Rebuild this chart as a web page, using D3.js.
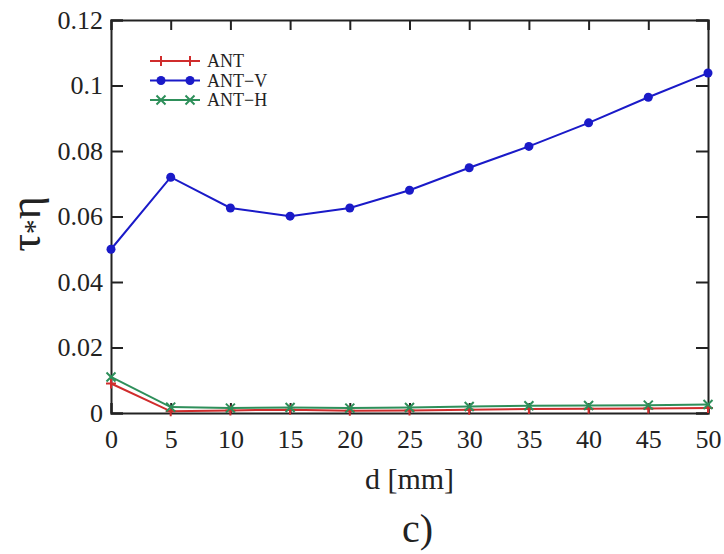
<!DOCTYPE html>
<html>
<head>
<meta charset="utf-8">
<script src="https://cdn.jsdelivr.net/npm/d3@7"></script>
<style>
  body { margin: 0; background: #fff; }
  text { font-family: "Liberation Serif", "DejaVu Serif", serif; fill: #222; }
</style>
</head>
<body>
<div class="chart"></div>
<script>
var svgWidth = 724;
var svgHeight = 554;

var margin = { top: 20, right: 16, bottom: 141, left: 111 };
var width = svgWidth - margin.left - margin.right;
var height = svgHeight - margin.top - margin.bottom;

// data
var dValues = [0, 5, 10, 15, 20, 25, 30, 35, 40, 45, 50];
var antValues = [0.0090, 0.0005, 0.0008, 0.0010, 0.0007, 0.0008, 0.0010, 0.0012, 0.0013, 0.0014, 0.0015];
var antVValues = [0.0500, 0.0720, 0.0626, 0.0601, 0.0626, 0.0680, 0.0749, 0.0814, 0.0886, 0.0964, 0.1038];
var antHValues = [0.0110, 0.0018, 0.0015, 0.0017, 0.0015, 0.0017, 0.0020, 0.0022, 0.0023, 0.0024, 0.0026];
var yTicks = [0, 0.02, 0.04, 0.06, 0.08, 0.1, 0.12];
var yTickLabels = ["0", "0.02", "0.04", "0.06", "0.08", "0.1", "0.12"];
var seriesNames = ["ANT", "ANT\u2212V", "ANT\u2212H"];

var series = [
  { name: seriesNames[0], values: antValues, color: "#d02c2c", marker: "plus" },
  { name: seriesNames[1], values: antVValues, color: "#1a1ac8", marker: "dot" },
  { name: seriesNames[2], values: antHValues, color: "#2e8f5a", marker: "cross" }
];

var svg = d3.select(".chart")
  .append("svg")
  .attr("width", svgWidth)
  .attr("height", svgHeight);

var chartGroup = svg.append("g")
  .attr("transform", `translate(${margin.left}, ${margin.top})`);

var x = d3.scaleLinear().domain([0, 50]).range([0, width]);
var y = d3.scaleLinear().domain([0, 0.12]).range([height, 0]);

// axes with inward ticks
var bottomAxis = d3.axisBottom(x).tickValues(dValues).tickSize(-10).tickPadding(17).tickFormat(d => d);
var topAxis = d3.axisTop(x).tickValues(dValues).tickSize(-10).tickFormat("");
var leftAxis = d3.axisLeft(y).tickValues(yTicks).tickSize(-12).tickPadding(8)
  .tickFormat((d, i) => yTickLabels[i]);
var rightAxis = d3.axisRight(y).tickValues(yTicks).tickSize(-12).tickFormat("");

function styleAxis(g) {
  g.select(".domain").attr("stroke", "#222").attr("stroke-width", 2);
  g.selectAll(".tick line").attr("stroke", "#222").attr("stroke-width", 2);
  g.selectAll(".tick text")
    .style("font-size", "26px")
    .style("font-family", "'Liberation Serif', serif")
    .attr("fill", "#222");
}

chartGroup.append("g").attr("transform", `translate(0, ${height})`).call(bottomAxis).call(styleAxis);
chartGroup.append("g").call(topAxis).call(styleAxis);
chartGroup.append("g").call(leftAxis).call(styleAxis);
chartGroup.append("g").attr("transform", `translate(${width}, 0)`).call(rightAxis).call(styleAxis);

// lines and markers
var line = d3.line().x((d, i) => x(dValues[i])).y(d => y(d));

function drawMarker(g, type, color, cx, cy) {
  if (type === "dot") {
    g.append("circle").attr("cx", cx).attr("cy", cy).attr("r", 4.5).attr("fill", color);
  } else if (type === "plus") {
    g.append("path").attr("d", `M${cx - 5},${cy}H${cx + 5}M${cx},${cy - 5}V${cy + 5}`)
      .attr("stroke", color).attr("stroke-width", 2);
  } else {
    g.append("path").attr("d", `M${cx - 4.5},${cy - 4.5}L${cx + 4.5},${cy + 4.5}M${cx - 4.5},${cy + 4.5}L${cx + 4.5},${cy - 4.5}`)
      .attr("stroke", color).attr("stroke-width", 2);
  }
}

series.forEach(function (s) {
  chartGroup.append("path")
    .datum(s.values)
    .attr("d", line)
    .attr("fill", "none")
    .attr("stroke", s.color)
    .attr("stroke-width", 2);
  var mg = chartGroup.append("g");
  s.values.forEach(function (v, i) {
    drawMarker(mg, s.marker, s.color, x(dValues[i]), y(v));
  });
});

// legend
var legend = chartGroup.append("g").attr("transform", "translate(39, 41)");
series.forEach(function (s, i) {
  var ly = i * 19.5;
  legend.append("line").attr("x1", 0).attr("x2", 50).attr("y1", ly).attr("y2", ly)
    .attr("stroke", s.color).attr("stroke-width", 2);
  drawMarker(legend, s.marker, s.color, 11, ly);
  drawMarker(legend, s.marker, s.color, 40, ly);
  legend.append("text").attr("x", 57).attr("y", ly).attr("dy", "0.35em")
    .style("font-size", "18px").text(s.name);
});

// axis labels
chartGroup.append("text")
  .attr("transform", `translate(${-71}, ${224 - margin.top}) rotate(-90)`)
  .attr("text-anchor", "middle")
  .style("font-size", "44px")
  .html('τ<tspan dy="4" style="font-size:30px">*</tspan><tspan dy="-4">η</tspan>');

chartGroup.append("text")
  .attr("x", width / 2)
  .attr("y", height + 76)
  .attr("text-anchor", "middle")
  .style("font-size", "30px")
  .text("d [mm]");

chartGroup.append("text")
  .attr("x", width / 2 + 8)
  .attr("y", height + 129)
  .attr("text-anchor", "middle")
  .style("font-size", "40px")
  .text("c)");
</script>
</body>
</html>
